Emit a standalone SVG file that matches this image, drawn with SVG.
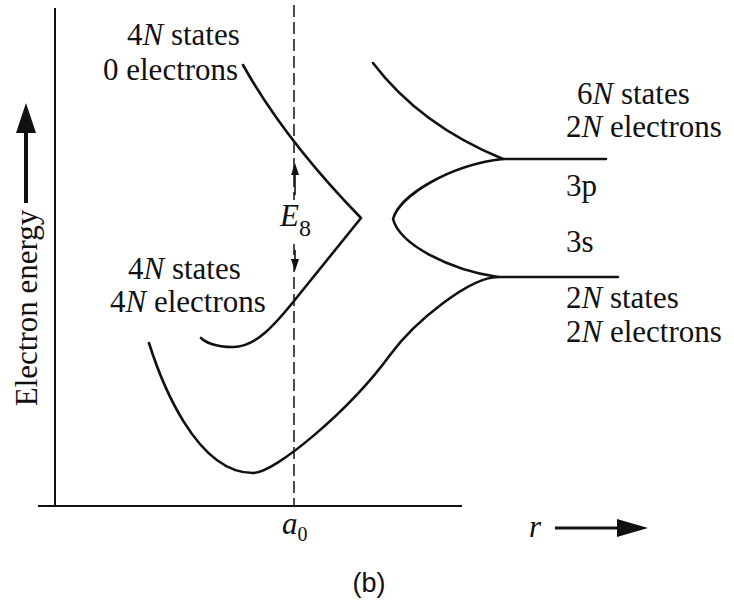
<svg xmlns="http://www.w3.org/2000/svg" width="734" height="603" viewBox="0 0 734 603">
<style>
.t{font-family:"Liberation Serif","Times New Roman",serif;font-size:31px;fill:#111}
.i{font-style:italic}
.c{fill:none;stroke:#111;stroke-width:2.6;stroke-linecap:round;stroke-linejoin:round}
.ax{fill:none;stroke:#111;stroke-width:2}
</style>
<rect width="734" height="603" fill="#fff"/>
<g id="axes">
<line class="ax" x1="55" y1="8" x2="55" y2="506"/>
<line class="ax" x1="38" y1="506" x2="462" y2="506"/>
<line x1="26" y1="203" x2="26" y2="128" stroke="#111" stroke-width="4"/>
<path d="M26,103 L36,133 L16,133 z" fill="#111"/>
<text class="t" transform="translate(37,308) rotate(-90)" text-anchor="middle">Electron energy</text>
<line x1="555" y1="528" x2="620" y2="528" stroke="#111" stroke-width="3"/>
<path d="M648,528 L617,519 L617,537 z" fill="#111"/>
<text class="t i" x="529" y="537">r</text>
<text class="t i" x="282" y="534">a<tspan font-size="20" font-style="normal" dy="7">0</tspan></text>
<line x1="294" y1="5" x2="294" y2="506" stroke="#111" stroke-width="1.5" stroke-dasharray="12,5"/>
</g>
<g id="connectors">
<path class="c" d="M243,65 Q285,140 361,218 L298,296 C275,325 255,348 232,347 C215,347 205,342 201,338"/>
<path class="c" d="M149,343 C160,378 195,473 253,473 C275,473 350,410 390,355 C415,321 470,277 498,277 L618,277"/>
<path class="c" d="M606,159 L503,159 C450,165 400,195 393,219 C400,245 450,270 498,277"/>
<path class="c" d="M373,63 Q420,125 503,159"/>
</g>
<g id="gap">
<line x1="295" y1="195" x2="295" y2="168" stroke="#111" stroke-width="1.6"/>
<path d="M295,163 L299,175 L291,175 z" fill="#111"/>
<line x1="295" y1="250" x2="295" y2="265" stroke="#111" stroke-width="1.6"/>
<path d="M295,271 L299,259 L291,259 z" fill="#111"/>
<rect x="276" y="200" width="36" height="44" fill="#fff"/>
<text class="t i" x="280" y="226">E<tspan font-size="24" font-style="normal" dy="10">8</tspan></text>
</g>
<g id="label-top-left">
<text class="t" x="127" y="45">4<tspan class="i">N</tspan> states</text>
<text class="t" x="103" y="80">0 electrons</text>
</g>
<g id="label-bottom-left">
<text class="t" x="128" y="279">4<tspan class="i">N</tspan> states</text>
<text class="t" x="110" y="312">4<tspan class="i">N</tspan> electrons</text>
</g>
<g id="label-6N">
<text class="t" x="577" y="104">6<tspan class="i">N</tspan> states</text>
<text class="t" x="566" y="137">2<tspan class="i">N</tspan> electrons</text>
</g>
<g id="label-3p"><text class="t" x="566" y="196">3p</text></g>
<g id="label-3s"><text class="t" x="566" y="252">3s</text></g>
<g id="label-2N">
<text class="t" x="566" y="308">2<tspan class="i">N</tspan> states</text>
<text class="t" x="566" y="342">2<tspan class="i">N</tspan> electrons</text>
</g>
<g id="caption"><text x="369" y="592" text-anchor="middle" font-family="Liberation Sans, Arial, sans-serif" font-size="27" fill="#111">(b)</text></g>
</svg>
